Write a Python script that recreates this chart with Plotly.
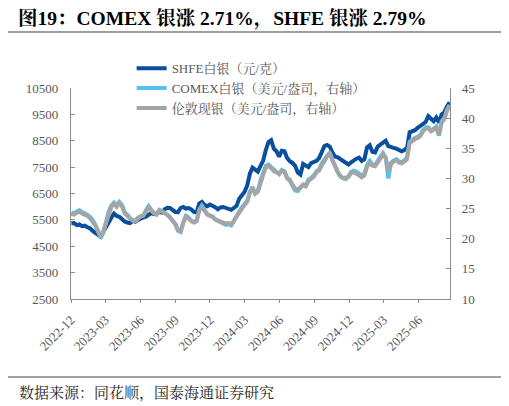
import pandas as pd
import plotly.graph_objects as go

# weekly sample points
dates = pd.date_range("2022-12-02", periods=143, freq="7D")

shfe_silver = [
    5370, 5380, 5300, 5330, 5260, 5280, 5220, 5180, 5080, 5010,
    4900, 4860, 5050, 5250, 5450, 5580, 5740, 5650, 5620, 5520,
    5440, 5400, 5380, 5460, 5430, 5500, 5560, 5590, 5620, 5700,
    5760, 5720, 5740, 5800, 5780, 5900, 5960, 5950, 5880, 5800,
    5790, 5950, 5990, 5930, 5950, 5900, 5800, 5780, 6120, 6180,
    6060, 6020, 6080, 6040, 5980, 5900, 5970, 5990, 5940, 5900,
    5880, 5950, 6030, 6300, 6440, 6560, 6800, 7250, 7480, 7400,
    7330, 7550, 7750, 8150, 8450, 8520, 8200, 8100, 7900, 8120,
    8100, 7850, 7720, 7660, 7550, 7300, 7220, 7620, 7560, 7500,
    7650, 7700, 7740, 7840, 8100, 8300, 8340, 8280, 8050, 7900,
    7870, 7800, 7720, 7680, 7600, 7680, 7760, 7820, 7860, 7740,
    7800, 8250, 8330, 8080, 8060, 8280, 8350, 8450, 8500, 8300,
    8250, 8230, 8200, 8160, 8100, 8150, 8220, 8820, 8860, 8900,
    8990, 9080, 9170, 9210, 9430, 9330, 9240, 9380, 9190, 9500,
    9580, 9800, 9960,
]

comex_silver = [
    24.3, 24.2, 24.5, 24.7, 24.4, 24.2, 24.0, 23.6, 23.1, 22.3,
    21.3, 20.1, 21.0, 22.7, 24.5, 25.5, 26.0, 25.5, 26.1, 25.6,
    24.4, 24.0, 23.4, 23.1, 23.0, 23.5, 23.8, 23.9, 24.7, 25.4,
    24.8, 24.3, 24.1, 24.8, 24.6, 24.3, 24.1, 23.6, 23.0, 22.4,
    21.3, 21.1, 22.7, 23.8, 23.5, 23.0, 22.8, 23.0, 24.8, 25.5,
    24.8, 24.1, 23.9, 23.7, 23.2, 23.0, 22.7, 22.6, 22.3, 22.4,
    22.2, 22.9, 23.8, 24.5, 25.2, 25.8, 26.3, 27.8, 28.6, 27.5,
    27.9, 29.7, 30.8, 32.1, 32.3, 31.9, 31.3, 31.0, 30.7, 31.4,
    31.2, 30.0, 29.6, 28.8, 28.0, 27.9, 28.5, 29.0, 28.8, 29.8,
    30.1, 30.5, 31.2, 31.5, 32.5, 33.1, 33.9, 34.3, 33.1, 31.9,
    31.1, 30.4, 30.0, 29.9, 30.3, 31.1, 31.3, 31.1, 30.8, 30.5,
    30.8, 32.2, 32.9, 32.3, 32.2, 33.0, 33.6, 34.2, 33.5, 30.0,
    32.6, 33.0, 33.2, 32.8, 32.7, 33.0, 33.5, 36.1, 36.5, 36.7,
    36.9, 37.2, 38.0, 38.5, 38.5, 37.9, 38.2, 38.6, 37.1, 39.5,
    40.0, 41.4, 42.2,
]

london_silver = [
    24.1, 24.0, 24.3, 24.5, 24.2, 24.0, 23.8, 23.4, 22.9, 22.2,
    21.3, 20.3, 21.2, 22.6, 24.3, 25.3, 25.8, 25.3, 25.9, 25.4,
    24.2, 23.8, 23.3, 23.0, 22.9, 23.4, 23.7, 23.8, 24.6, 25.2,
    24.7, 24.2, 24.0, 24.7, 24.5, 24.2, 24.0, 23.5, 23.0, 22.5,
    21.5, 21.2, 22.6, 23.6, 23.4, 22.9, 22.7, 22.9, 24.6, 25.3,
    24.6, 24.0, 23.8, 23.6, 23.2, 23.0, 22.8, 22.7, 22.5, 22.6,
    22.4, 23.0, 23.7, 24.3, 25.0, 25.6, 26.1, 27.6, 28.4, 27.5,
    27.8, 29.5, 30.6, 31.8, 32.1, 31.7, 31.2, 31.0, 30.8, 31.3,
    31.1, 30.1, 29.8, 29.0, 28.3, 28.2, 28.6, 28.9, 28.7, 29.6,
    29.9, 30.3, 31.0, 31.3, 32.2, 32.8, 33.7, 34.1, 33.0, 31.8,
    31.0, 30.3, 30.1, 30.1, 30.3, 30.9, 31.0, 30.8, 30.5, 30.2,
    30.5, 31.9, 32.6, 32.1, 32.0, 32.8, 33.3, 34.0, 33.4, 31.2,
    32.4, 32.8, 33.0, 32.6, 32.5, 32.8, 33.2, 35.9, 36.3, 36.5,
    36.7, 37.0, 37.8, 38.3, 38.3, 37.8, 38.1, 38.4, 37.3, 39.3,
    39.8, 41.2, 42.0,
]

SERIF = "Liberation Serif, Times New Roman, Noto Serif CJK SC, Noto Sans CJK SC, serif"

fig = go.Figure()
fig.add_trace(go.Scatter(x=dates, y=shfe_silver, name="SHFE白银（元/克）",
                         mode="lines", line=dict(color="#0A4F9D", width=4)))
fig.add_trace(go.Scatter(x=dates, y=comex_silver, name="COMEX白银（美元/盎司，右轴）",
                         mode="lines", line=dict(color="#56C1EE", width=4), yaxis="y2"))
fig.add_trace(go.Scatter(x=dates, y=london_silver, name="伦敦现银（美元/盎司，右轴）",
                         mode="lines", line=dict(color="#A5A5A5", width=4), yaxis="y2"))

axis_font = dict(family=SERIF, size=13, color="#595959")

# page body has an 8px margin, so the figure is drawn 8px smaller and shifted
fig.update_layout(
    width=501, height=398,
    margin=dict(l=63, r=59, t=80, b=107),
    paper_bgcolor="white", plot_bgcolor="white",
    font=dict(family=SERIF, size=13, color="#595959"),
    showlegend=True,
    legend=dict(x=0.16, y=1.165, xanchor="left", yanchor="top",
                bgcolor="rgba(0,0,0,0)", font=dict(family=SERIF, size=13, color="#595959"),
                tracegroupgap=0, itemwidth=30),
    title=dict(text="<b>图19：COMEX 银涨 2.71%，SHFE 银涨 2.79%</b>",
               x=0.02, xref="container", xanchor="left",
               y=0.974, yref="container", yanchor="middle",
               font=dict(family=SERIF, size=19.5, color="black")),
    xaxis=dict(type="date", range=["2022-12-01", "2025-08-23"],
               tick0="2022-12-01", dtick="M3", tickformat="%Y-%m", tickangle=-45,
               showgrid=False, zeroline=False, showline=True, linecolor="#8C8C8C", linewidth=1.3,
               ticks="outside", ticklen=3, tickcolor="#8C8C8C", tickfont=axis_font,
               ticklabelstandoff=4),
    yaxis=dict(range=[2500, 10500], tick0=2500, dtick=1000, tickformat="d",
               showgrid=False, zeroline=False,
               showline=True, linecolor="#8C8C8C", linewidth=1.3,
               ticks="inside", ticklen=4, tickcolor="#8C8C8C", tickfont=axis_font,
               ticklabelstandoff=9),
    yaxis2=dict(range=[10, 45], tick0=10, dtick=5, overlaying="y", side="right",
                showgrid=False, zeroline=False,
                showline=True, linecolor="#8C8C8C", linewidth=1.3,
                ticks="inside", ticklen=4, tickcolor="#8C8C8C", tickfont=axis_font,
                ticklabelstandoff=8),
)

# header and footer rules
fig.add_shape(type="line", xref="paper", yref="paper", x0=-0.1715, x1=1.137,
              y0=1.2654, y1=1.2654, line=dict(color="#7F7F7F", width=1.5))
fig.add_shape(type="line", xref="paper", yref="paper", x0=-0.1715, x1=1.137,
              y0=-0.3697, y1=-0.3697, line=dict(color="#404040", width=1))

fig.add_annotation(text="数据来源：同花顺，国泰海通证券研究", xref="paper", yref="paper",
                   x=-0.1425, y=-0.4455, xanchor="left", yanchor="middle", showarrow=False,
                   font=dict(family=SERIF, size=15, color="#262626"))

fig.write_html("out.html")
